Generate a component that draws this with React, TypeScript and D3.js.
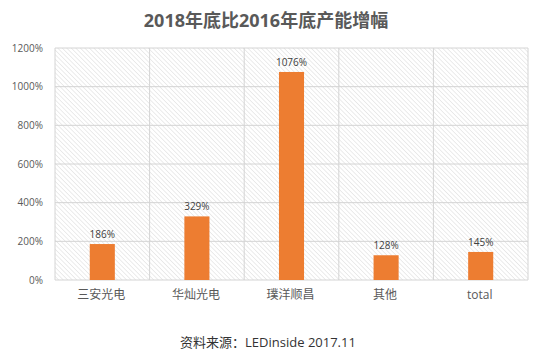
import React from "react";
import * as d3 from "d3";

const categories = ["三安光电", "华灿光电", "璞洋顺昌", "其他", "total"];
const values = [186, 329, 1076, 128, 145];
const yTicks = [0, 200, 400, 600, 800, 1000, 1200];
const titleText = "2018年底比2016年底产能增幅";
const sourceText = "资料来源：LEDinside 2017.11";

const W = 537;
const H = 355;
const M = { left: 55, right: 9, top: 48, bottom: 75 };
const FONT = "'Open Sans', 'Noto Sans CJK SC', sans-serif";

export default function App() {
  const x = d3
    .scaleBand<string>()
    .domain(categories)
    .range([M.left, W - M.right])
    .paddingInner(0)
    .paddingOuter(0);
  const y = d3.scaleLinear().domain([0, 1200]).range([H - M.bottom, M.top]);
  const barW = x.bandwidth() * 0.265;
  const plotL = M.left;
  const plotR = W - M.right;
  const plotT = M.top;
  const plotB = H - M.bottom;

  return (
    <svg
      width={W}
      height={H}
      style={{ position: "absolute", left: 0, top: 0, background: "#fff" }}
    >
      <defs>
        <pattern
          id="hatch"
          patternUnits="userSpaceOnUse"
          width={3.2}
          height={3.2}
          patternTransform="rotate(-45)"
        >
          <line x1={0} y1={0} x2={0} y2={3.2} stroke="#dcdcdc" strokeWidth={1.1} />
        </pattern>
      </defs>
      <rect x={0} y={0} width={W} height={H} fill="#fff" />
      <text
        x={266}
        y={27}
        textAnchor="middle"
        fontFamily={FONT}
        fontWeight="bold"
        fontSize={18}
        fill="#595959"
      >
        {titleText}
      </text>
      <rect x={plotL} y={plotT} width={plotR - plotL} height={plotB - plotT} fill="url(#hatch)" />
      {yTicks.map((t) => (
        <g key={t}>
          <line x1={plotL} x2={plotR} y1={y(t)} y2={y(t)} stroke="#d4d4d4" strokeWidth={1} />
          <text
            x={43}
            y={y(t) + 3.5}
            textAnchor="end"
            fontFamily={FONT}
            fontSize={10}
            fill="#595959"
          >
            {t}%
          </text>
        </g>
      ))}
      {categories.map((c) => (
        <line
          key={"v" + c}
          x1={x(c)!}
          x2={x(c)!}
          y1={plotT}
          y2={plotB}
          stroke="#d4d4d4"
          strokeWidth={1}
        />
      ))}
      <line x1={plotR} x2={plotR} y1={plotT} y2={plotB} stroke="#d4d4d4" strokeWidth={1} />
      {categories.map((c, i) => {
        const cx = x(c)! + x.bandwidth() / 2;
        return (
          <g key={c}>
            <rect
              x={cx - barW / 2}
              y={y(values[i])}
              width={barW}
              height={plotB - y(values[i])}
              fill="#ED7D31"
            />
            <text
              x={cx}
              y={y(values[i]) - 6}
              textAnchor="middle"
              fontFamily={FONT}
              fontSize={10}
              fill="#404040"
            >
              {values[i]}%
            </text>
            <text
              x={cx - 1}
              y={299}
              textAnchor="middle"
              fontFamily={FONT}
              fontSize={12}
              fill="#595959"
            >
              {c}
            </text>
          </g>
        );
      })}
      <text
        x={268}
        y={347}
        textAnchor="middle"
        fontFamily={FONT}
        fontSize={13}
        fill="#333"
      >
        {sourceText}
      </text>
    </svg>
  );
}
